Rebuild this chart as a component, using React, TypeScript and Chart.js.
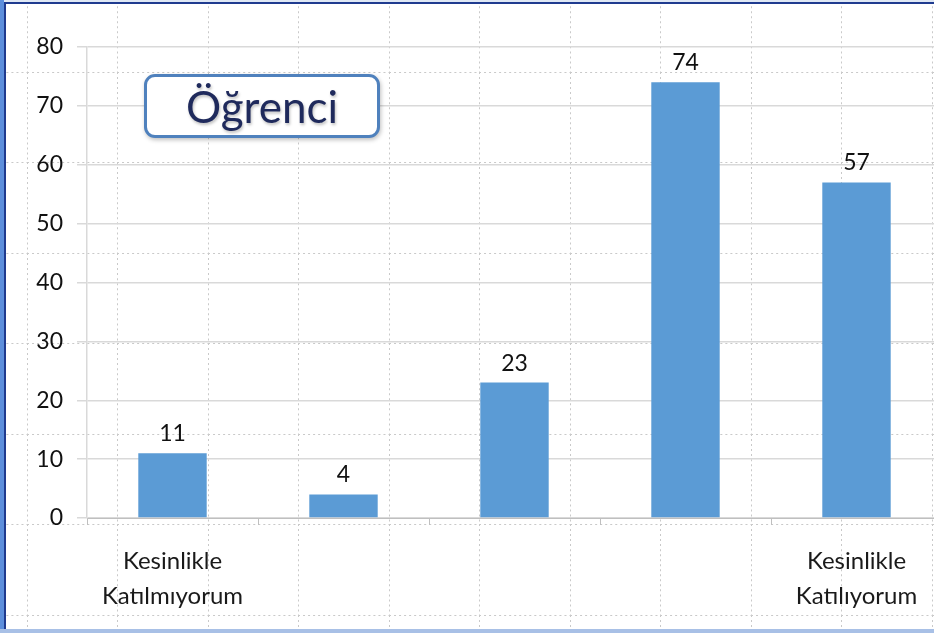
import React, { useEffect, useRef } from "react";
import { Chart, registerables } from "chart.js";

Chart.register(...registerables);

// ---- data ----
const categories: (string | string[])[] = [
  ["Kesinlikle", "Katılmıyorum"],
  "",
  "",
  "",
  ["Kesinlikle", "Katılıyorum"],
];
const values: number[] = [11, 4, 23, 74, 57];
const yMin = 0;
const yMax = 80;
const yStep = 10;
const boxTitle = "Öğrenci";

const FONT = "Lato, 'Open Sans', 'DejaVu Sans', sans-serif";

const valueLabels = {
  id: "valueLabels",
  afterDatasetsDraw(chart: any) {
    const ctx = chart.ctx;
    const meta = chart.getDatasetMeta(0);
    ctx.save();
    ctx.font = `23px ${FONT}`;
    ctx.fillStyle = "#111111";
    ctx.textAlign = "center";
    ctx.textBaseline = "alphabetic";
    meta.data.forEach((bar: any, i: number) => {
      ctx.fillText(String(values[i]), bar.x, bar.y - 12);
    });
    ctx.restore();
  },
};

const guideSvg =
  "<svg xmlns='http://www.w3.org/2000/svg' width='90.5' height='90.5'>" +
  "<path d='M0.5 0V90.5M0 0.5H90.5' stroke='#c9c9c9' stroke-width='1' stroke-dasharray='2 3' fill='none'/></svg>";
const guideUrl = `url("data:image/svg+xml,${encodeURIComponent(guideSvg)}")`;

export default function App() {
  const ref = useRef<HTMLCanvasElement | null>(null);

  useEffect(() => {
    if (!ref.current) return;
    const chart = new Chart(ref.current, {
      type: "bar",
      data: {
        labels: categories,
        datasets: [
          {
            data: values,
            backgroundColor: "#5b9bd5",
            borderWidth: 0,
            barPercentage: 0.4,
            categoryPercentage: 1,
          },
        ],
      },
      options: {
        responsive: false,
        animation: false,
        devicePixelRatio: 1,
        layout: { padding: { left: 0, right: 8, top: 47, bottom: 0 } },
        plugins: {
          legend: { display: false },
          tooltip: { enabled: false },
        },
        scales: {
          x: {
            afterFit: (s: any) => {
              s.height = 115;
            },
            grid: {
              offset: true,
              drawOnChartArea: false,
              drawTicks: true,
              tickLength: 7,
              color: "#bfbfbf",
            },
            border: { display: true, color: "#bfbfbf", width: 1 },
            ticks: {
              autoSkip: false,
              maxRotation: 0,
              minRotation: 0,
              padding: 19,
              color: "#1a1a1a",
              font: { family: FONT, size: 24, lineHeight: 1.46 },
            },
          },
          y: {
            min: yMin,
            max: yMax,
            afterFit: (s: any) => {
              s.width = 87;
            },
            grid: {
              color: "#d9d9d9",
              lineWidth: 1.5,
              drawTicks: true,
              tickLength: 10,
            },
            border: { display: true, color: "#d9d9d9", width: 1.5 },
            ticks: {
              stepSize: yStep,
              padding: 14,
              color: "#111111",
              font: { family: FONT, size: 23 },
            },
          },
        },
      },
      plugins: [valueLabels],
    });
    return () => chart.destroy();
  }, []);

  return (
    <div
      style={{
        position: "fixed",
        left: 0,
        top: 0,
        width: 934,
        height: 633,
        overflow: "hidden",
        background: "#ffffff",
        backgroundImage: guideUrl,
        backgroundPosition: "27px 72px",
      }}
    >
      <canvas
        ref={ref}
        width={950}
        height={633}
        style={{ position: "absolute", left: 0, top: 0, width: 950, height: 633 }}
      />
      <div
        style={{
          position: "absolute",
          left: 144,
          top: 74,
          width: 230,
          height: 58,
          border: "3.5px solid #4f81bd",
          borderRadius: 11,
          background: "#ffffff",
          boxShadow: "1px 2px 4px rgba(0,0,0,0.25)",
          display: "flex",
          alignItems: "center",
          justifyContent: "center",
          fontFamily: FONT,
          fontSize: 44,
          color: "#1f2a5c",
          textShadow: "1px 2px 3px rgba(0,0,0,0.25)",
        }}
      >
        {boxTitle}
      </div>
      <div style={{ position: "absolute", left: 0, top: 0, width: 934, height: 2, background: "#dfe8f5" }} />
      <div style={{ position: "absolute", left: 4, top: 2, width: 930, height: 2, background: "#1f3b8f" }} />
      <div style={{ position: "absolute", left: 0, top: 0, width: 4, height: 633, background: "#5d8fdc" }} />
      <div style={{ position: "absolute", left: 4, top: 2, width: 2, height: 631, background: "#1f3b8f" }} />
      <div style={{ position: "absolute", left: 0, top: 629, width: 934, height: 4, background: "#a8c0e6" }} />
    </div>
  );
}
